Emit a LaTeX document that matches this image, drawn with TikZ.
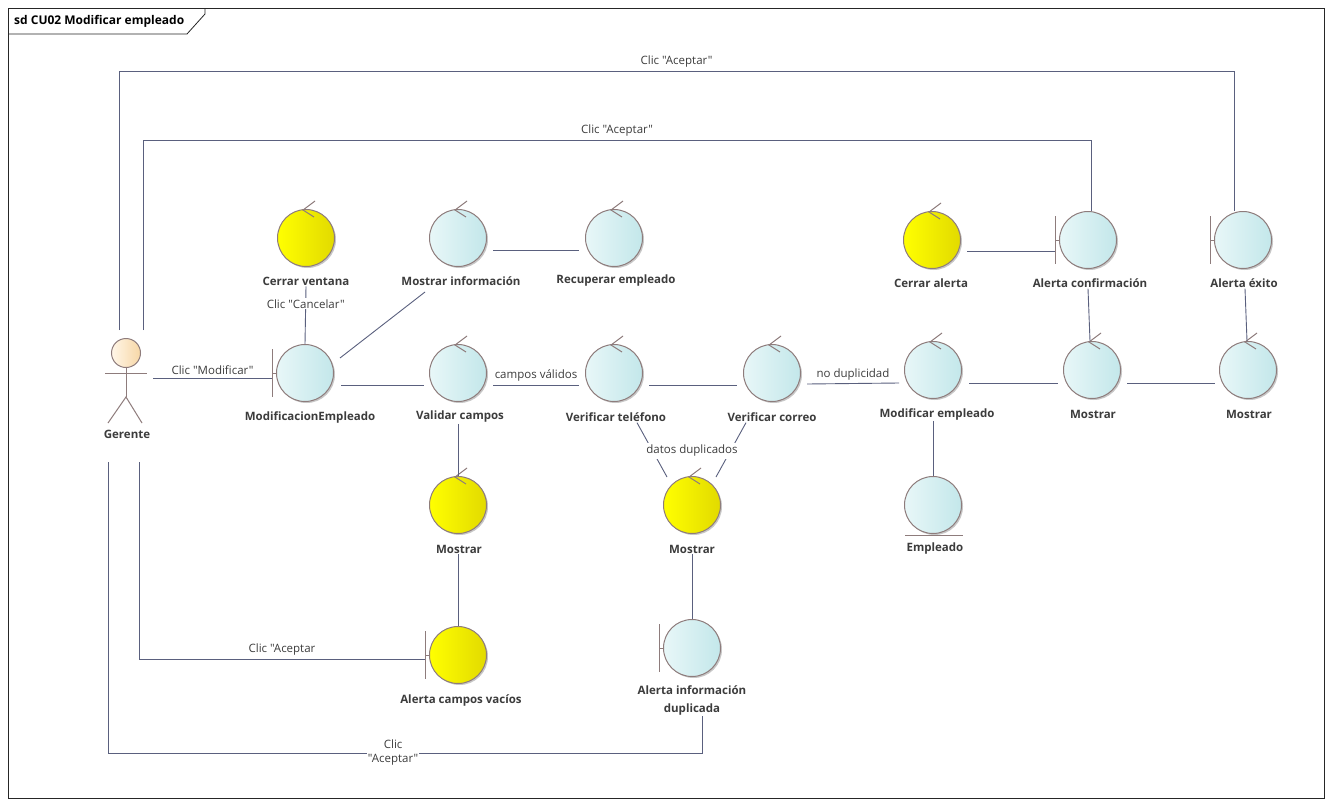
\documentclass[tikz,border=0pt]{standalone}
\usepackage{fontspec}
\setmainfont{Open Sans}[Ligatures=TeXOff]
\usetikzlibrary{shadows,calc}
\definecolor{ln}{HTML}{5A607E}
\definecolor{ol}{HTML}{8E7C7C}
\definecolor{cyL}{HTML}{E8F7F8}
\definecolor{cyR}{HTML}{C3E7EA}
\definecolor{yeL}{HTML}{FFFF00}
\definecolor{yeR}{HTML}{E2DA00}
\definecolor{acL}{HTML}{FFF6E8}
\definecolor{acR}{HTML}{F7D7A6}
\definecolor{tx}{HTML}{3C3C3C}
\newcommand{\ctrlmark}[1]{\draw[sym] ([shift={(9,-8)}]#1.north) -- ([shift={(-3,1)}]#1.north) -- ([shift={(8,8)}]#1.north);}
\newcommand{\bndmark}[1]{\draw[sym] (#1.west) -- ++(-4,0) ++(0,-24) -- ++(0,48);}
\begin{document}
\begin{tikzpicture}[x=1pt,y=-1pt,
 obj/.style={circle, minimum size=57pt, inner sep=0pt, draw=ol, line width=1pt,
   drop shadow={shadow xshift=1.5pt,shadow yshift=-1.5pt,opacity=0.22,fill=black}},
 cyobj/.style={obj, left color=cyL, right color=cyR},
 yeobj/.style={obj, left color=yeL, right color=yeR},
 lbl/.style={font=\bfseries\fontsize{11.5}{14}\selectfont, text=tx, inner sep=1pt, align=center},
 clbl/.style={font=\fontsize{11.5}{14}\selectfont, text=tx, inner sep=1pt, align=center},
 conn/.style={draw=ln, line width=0.9pt},
 sym/.style={draw=ol, line width=1pt},
]
\useasboundingbox (0,0) rectangle (1333,806);
\fill[white] (0,0) rectangle (1333,806);
% frame
\draw[black!85, line width=0.8pt] (8,8) rectangle (1324,798);
\draw[black!85, line width=0.8pt] (8,34) -- (187,34) -- (205,14) -- (205,8);
\node[anchor=west, font=\bfseries\fontsize{12}{14}\selectfont, inner sep=0pt] (title) at (14,21) {sd CU02 Modificar empleado};

% objects
\node[yeobj] (cv) at (306,238) {};
\node[cyobj] (mi) at (458,238) {};
\node[cyobj] (re) at (614,238) {};
\node[yeobj] (ca) at (932,240) {};
\node[cyobj] (ac) at (1088,240) {};
\node[cyobj] (ae) at (1243,240) {};
\node[cyobj] (me) at (305,373) {};
\node[cyobj] (vc) at (458,373) {};
\node[cyobj] (vt) at (614,373) {};
\node[cyobj] (vco) at (772,373) {};
\node[cyobj] (mo) at (933,370) {};
\node[cyobj] (m1) at (1092,370) {};
\node[cyobj] (m2) at (1248,370) {};
\node[cyobj] (em) at (933,505) {};
\node[yeobj] (my1) at (458,505) {};
\node[yeobj] (my2) at (692,505) {};
\node[yeobj] (acv) at (458,655) {};
\node[cyobj] (aid) at (692,648) {};

\foreach \n in {cv,mi,re,ca,vc,vt,vco,mo,m1,m2,my1,my2} {\ctrlmark{\n}}
\foreach \n in {ac,ae,me,acv,aid} {\bndmark{\n}}
\draw[sym] ([shift={(-28,1)}]em.south) -- ([shift={(30,1)}]em.south);

% actor
\coordinate (ger) at (125,380);
\draw[sym, left color=acL, right color=acR] (126,353) circle (14.5);
\draw[sym] (126,368) -- (126,397);
\draw[sym] (105,373) -- (147,373);
\draw[sym] (108,423) -- (126,397) -- (142,423);

% labels
\node[lbl] (cvL) at (306,281) {Cerrar ventana};
\node[lbl] (miL) at (461,281) {Mostrar información};
\node[lbl] (reL) at (616,281) {Recuperar empleado};
\node[lbl] (caL) at (931,283) {Cerrar alerta};
\node[lbl] (acL) at (1090,283) {Alerta confirmación};
\node[lbl] (aeL) at (1244,283) {Alerta éxito};
\node[lbl] (gerL) at (127,434) {Gerente};
\node[lbl] (meL) at (310,417) {ModificacionEmpleado};
\node[lbl] (vcL) at (460,417) {Validar campos};
\node[lbl] (vtL) at (616,417) {Verificar teléfono};
\node[lbl] (vcoL) at (772,417) {Verificar correo};
\node[lbl] (moL) at (937,414) {Modificar empleado};
\node[lbl] (m1L) at (1093,414) {Mostrar};
\node[lbl] (m2L) at (1249,414) {Mostrar};
\node[lbl] (emL) at (935,549) {Empleado};
\node[lbl] (my1L) at (459,549) {Mostrar};
\node[lbl] (my2L) at (692,549) {Mostrar};
\node[lbl] (acvL) at (461,700) {Alerta campos vacíos};
\node[lbl, font=\bfseries\fontsize{11.5}{18}\selectfont] (aidL) at (692,700) {Alerta información\\duplicada};

% connectors
\draw[conn] ($(ger)+(-6,-50)$) -- ($(ger)+(-6,-309)$) -| node[clbl, pos=0.25, above=2pt] {Clic "Aceptar"} ([xshift=-9]ae.north);
\draw[conn] ($(ger)+(18,-50)$) -- ($(ger)+(18,-240)$) -| node[clbl, pos=0.25, above=2pt] {Clic "Aceptar"} ([xshift=3]ac.north);
\draw[conn] ($(ger)+(28,-2)$) -- node[clbl, above=2pt] {Clic "Modificar"} ([shift={(-4,5)}]me.west);
\draw[conn] (cvL.south) -- node[clbl, fill=white, pos=0.3] {Clic "Cancelar"} (me.north);
\draw[conn] ([shift={(35,-15)}]me.center) -- ([shift={(-33,54)}]mi.center);
\draw[conn] ([shift={(6,12)}]mi.east) -- ([shift={(-6,12)}]re.west);
\draw[conn] ([shift={(7,12)}]me.east) -- ([shift={(-5,12)}]vc.west);
\draw[conn] ([shift={(6,12)}]vc.east) -- node[clbl, above=2pt] {campos válidos} ([shift={(-6,12)}]vt.west);
\draw[conn] ([shift={(6,12)}]vt.east) -- ([shift={(-6,12)}]vco.west);
\draw[conn] ([shift={(6,11)}]vco.east) -- node[clbl, above=2pt] {no duplicidad} ([shift={(-5,13)}]mo.west);
\draw[conn] ([shift={(7,13)}]mo.east) -- ([shift={(-5,13)}]m1.west);
\draw[conn] ([shift={(6,13)}]m1.east) -- ([shift={(-4,13)}]m2.west);
\draw[conn] ([xshift=-2]acL.south) -- ([xshift=-2]m1.north);
\draw[conn] ([xshift=1]aeL.south) -- ([xshift=-1]m2.north);
\draw[conn] ([shift={(6,11)}]ca.east) -- ([shift={(-4,11)}]ac.west);
\draw[conn] ([xshift=-4]moL.south) -- (em.north);
\draw[conn] ([xshift=-2]vcL.south) -- (my1.north);
\draw[conn] ([xshift=21]vtL.south) -- ([shift={(-25,1)}]my2.north);
\draw[conn] ([xshift=-26]vcoL.south) -- ([shift={(24,1)}]my2.north);
\node[clbl, fill=white, inner sep=2pt] (dd) at (692,451) {datos duplicados};
\draw[conn] ([xshift=-1]my1L.south) -- (acv.north);
\draw[conn] (my2L.south) -- (aid.north);
\draw[conn] ($(ger)+(14,82)$) |- node[clbl, pos=0.75, above=2pt] {Clic "Aceptar} ([shift={(-4,4)}]acv.west);
\draw[conn] ($(ger)+(-17,82)$) -- ($(ger)+(-17,373)$) -| node[clbl, pos=0.24, fill=white] {Clic\\"Aceptar"} ([xshift=10]aidL.south);
\end{tikzpicture}
\end{document}
